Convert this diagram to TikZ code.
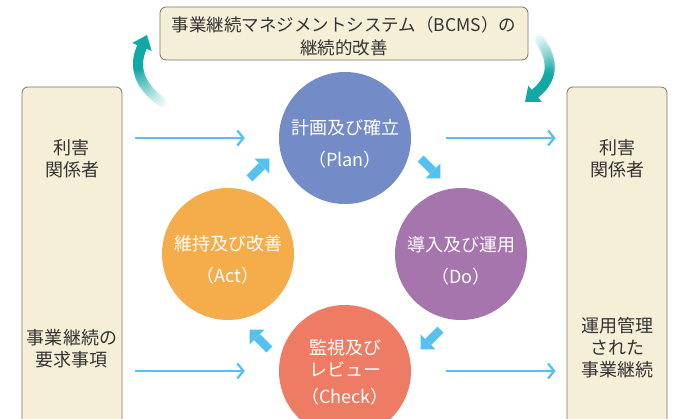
\documentclass[tikz,border=0pt]{standalone}
\usepackage{fontspec}
\setmainfont{Noto Sans CJK JP}
\usetikzlibrary{arrows.meta,calc,positioning}
\definecolor{boxfill}{RGB}{246,239,216}
\definecolor{boxline}{RGB}{125,115,100}
\definecolor{textgray}{RGB}{50,50,50}
\definecolor{planblue}{RGB}{115,139,199}
\definecolor{dopurple}{RGB}{166,117,174}
\definecolor{checkred}{RGB}{238,123,99}
\definecolor{actorange}{RGB}{245,173,75}
\definecolor{flowblue}{RGB}{85,193,238}
\definecolor{bcmsteal}{RGB}{18,168,166}

\begin{document}
\begin{tikzpicture}[x=1pt,y=-1pt,
    infobox/.style={draw=boxline,fill=boxfill,rounded corners=6pt,line width=0.8pt,inner sep=0pt},
    boxtext/.style={text=textgray,align=center,font=\fontsize{18}{22}\selectfont},
    phase/.style={circle,minimum size=132pt,inner sep=0pt},
    phasetext/.style={text=white,align=center,font=\fontsize{18}{22}\selectfont},
    flow/.style={flowblue,line width=2.3pt,-{Straight Barb[length=6pt,width=15pt]}},
    cyclearrow/.style={flowblue,line width=8.5pt,-{Triangle[width=21pt,length=10.5pt,line width=0pt]}},
    curvearrow/.style={line width=10pt,line cap=round}]

    \useasboundingbox (0,0) rectangle (677,418);

    % Improvement loop arrows (fading towards the tail)
    \coordinate (ltail) at (163,103);
    \coordinate (lctrl) at (128,78);
    \coordinate (lhead) at (142,47);
    \coordinate (ltip) at (147,35);
    \coordinate (rtail) at (538,38);
    \coordinate (rctrl) at (562,70);
    \coordinate (rhead) at (537,92);
    \coordinate (rtip) at (525,102);
    \foreach \side in {l,r} {
        \foreach \i in {0,...,23} {
            \pgfmathsetmacro{\ta}{\i/24}
            \pgfmathsetmacro{\tb}{(\i+1)/24}
            \pgfmathsetmacro{\tone}{int(min(100,140*\tb))}
            \draw[curvearrow,bcmsteal!\tone!white]
                ($($(\side tail)!\ta!(\side ctrl)$)!\ta!($(\side ctrl)!\ta!(\side head)$)$) --
                ($($(\side tail)!\tb!(\side ctrl)$)!\tb!($(\side ctrl)!\tb!(\side head)$)$);
        }
        \draw[line width=10pt,bcmsteal,-{Triangle[width=21pt,length=13pt,line width=0pt]}] (\side head) -- (\side tip);
    }

    % Top box
    \node[infobox,minimum width=368pt,minimum height=53pt] (topbox) at (344,33.5) {};
    \node[boxtext,font=\fontsize{17.5}{23}\selectfont] (toptext) at (344,36.5)
        {事業継続マネジメントシステム（BCMS）の\\継続的改善};

    % Side boxes
    \node[infobox,minimum width=100pt,minimum height=350pt] (lbox) at (72,262) {};
    \node[infobox,minimum width=100pt,minimum height=350pt] (rbox) at (617,262) {};
    \node[boxtext] (lstake) at (72,159) {利害\\関係者};
    \node[boxtext] (lneeds) at (72,349) {事業継続の\\要求事項};
    \node[boxtext] (rstake) at (617,159) {利害\\関係者};
    \node[boxtext] (rmanaged) at (617,348) {運用管理\\された\\事業継続};

    % PDCA circles
    \coordinate (hub) at (345,254);
    \node[phase,fill=planblue] (plan) at (345,138) {};
    \node[phase,fill=dopurple] (do) at (461,254) {};
    \node[phase,fill=checkred] (check) at (345,371) {};
    \node[phase,fill=actorange] (act) at (228,254) {};
    \node[phasetext] (plantext) at (345,144) {計画及び確立\\[10pt]（Plan）};
    \node[phasetext] (dotext) at (461,261) {導入及び運用\\[10pt]（Do）};
    \node[phasetext] (checktext) at (345,372.5) {監視及び\\レビュー\\[5pt]（Check）};
    \node[phasetext] (acttext) at (228,260) {維持及び改善\\[10pt]（Act）};

    % Arrows between the phases
    \foreach \ang in {225,315,45,135} {
        \draw[cyclearrow] ($(hub)+(\ang:121)+(\ang-90:14)$) -- ($(hub)+(\ang:121)+(\ang+90:14)$);
    }

    % Inputs and outputs
    \draw[flow] ($(lbox.east |- plan)+(13,0)$) -- ($(plan.west)+(-34,0)$);
    \draw[flow] ($(lbox.east |- check)+(13,0)$) -- ($(check.west)+(-34,0)$);
    \draw[flow] ($(plan.east)+(35,0)$) -- ($(rbox.west |- plan)+(-11,0)$);
    \draw[flow] ($(check.east)+(35,0)$) -- ($(rbox.west |- check)+(-11,0)$);
\end{tikzpicture}
\end{document}
